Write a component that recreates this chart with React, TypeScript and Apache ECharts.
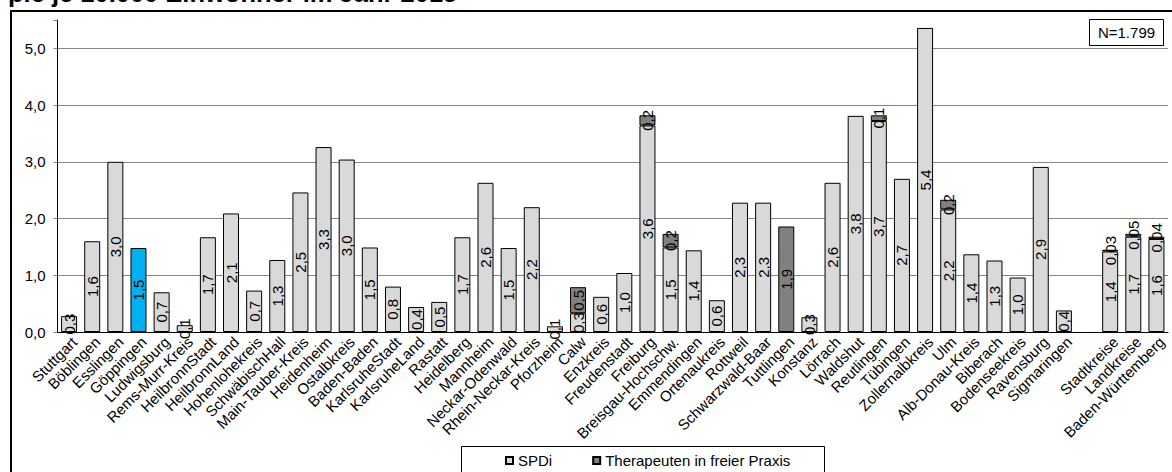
import React, { useEffect, useRef } from "react";
import * as echarts from "echarts";

const categories = [
  "Stuttgart", "Böblingen", "Esslingen", "Göppingen", "Ludwigsburg", "Rems-Murr-Kreis",
  "HeilbronnStadt", "HeilbronnLand", "Hohenlohekreis", "SchwäbischHall", "Main-Tauber-Kreis",
  "Heidenheim", "Ostalbkreis", "Baden-Baden", "KarlsruheStadt", "KarlsruheLand", "Rastatt",
  "Heidelberg", "Mannheim", "Neckar-Odenwald", "Rhein-Neckar-Kreis", "Pforzheim", "Calw",
  "Enzkreis", "Freudenstadt", "Freiburg", "Breisgau-Hochschw.", "Emmendingen", "Ortenaukreis",
  "Rottweil", "Schwarzwald-Baar", "Tuttlingen", "Konstanz", "Lörrach", "Waldshut", "Reutlingen",
  "Tübingen", "Zollernalbkreis", "Ulm", "Alb-Donau-Kreis", "Biberach", "Bodenseekreis",
  "Ravensburg", "Sigmaringen", "", "Stadtkreise", "Landkreise", "Baden-Württemberg",
];

const spdi: (number | null)[] = [
  0.28, 1.6, 3.0, 1.48, 0.7, 0.12,
  1.67, 2.09, 0.73, 1.27, 2.46,
  3.26, 3.04, 1.49, 0.8, 0.44, 0.53,
  1.67, 2.63, 1.48, 2.2, 0.1, 0.33,
  0.62, 1.04, 3.64, 1.49, 1.44, 0.56,
  2.28, 2.28, null, 0.26, 2.63, 3.81, 3.72,
  2.7, 5.36, 2.16, 1.37, 1.26, 0.96,
  2.91, 0.38, null, 1.42, 1.68, 1.64,
];

const therapeuten: (number | null)[] = [
  null, null, null, null, null, null,
  null, null, null, null, null,
  null, null, null, null, null, null,
  null, null, null, null, null, 0.46,
  null, null, 0.18, 0.24, null, null,
  null, null, 1.86, null, null, null, 0.1,
  null, null, 0.17, null, null, null,
  null, null, null, 0.03, 0.05, 0.04,
];

const highlighted = "Göppingen";
const yTicks = [0, 1, 2, 3, 4, 5];
const titleText = "pie je 10.000 Einwohner im Jahr 2015";
const nText = "N=1.799";

const FONT = "'Liberation Sans', Arial, sans-serif";

function fmt(v: number): string {
  if (v == null) return "";
  const s = v < 0.095 ? v.toFixed(2) : v.toFixed(1);
  return s.replace(".", ",");
}

export default function App() {
  const ref = useRef<HTMLDivElement>(null);
  useEffect(() => {
    if (!ref.current) return;
    const chart = echarts.init(ref.current, null, { renderer: "svg" });
    const labelCommon = {
      show: true,
      position: "inside",
      rotate: 90,
      color: "#000",
      fontSize: 15,
      fontFamily: FONT,
      formatter: (p: any) => (p.value == null ? "" : fmt(p.value)),
    };
    const splitColors = yTicks.map(() => "#868686").concat(["rgba(0,0,0,0)"]);
    chart.setOption({
      animation: false,
      textStyle: { fontFamily: FONT },
      grid: { left: 57.5, right: 4, top: 20, bottom: 140, containLabel: false },
      legend: {
        left: 500,
        top: 448,
        itemWidth: 7,
        itemHeight: 7,
        itemGap: 40,
        icon: "rect",
        textStyle: { fontSize: 15, color: "#000", fontFamily: FONT },
        data: ["SPDi", "Therapeuten in freier Praxis"],
      },
      xAxis: {
        type: "category",
        data: categories,
        axisLine: { show: true, lineStyle: { color: "#000", width: 1 } },
        axisTick: { show: false },
        axisLabel: {
          interval: 0,
          rotate: 45,
          fontSize: 15,
          color: "#000",
          fontFamily: FONT,
          margin: 2,
          verticalAlign: "top",
        },
      },
      yAxis: {
        type: "value",
        min: 0,
        max: 5.5,
        interval: 1,
        axisLine: { show: true, lineStyle: { color: "#000", width: 1 } },
        axisTick: { show: true, length: 4, lineStyle: { color: "#868686" } },
        axisLabel: {
          fontSize: 15,
          color: "#000",
          fontFamily: FONT,
          margin: 12,
          formatter: (v: number) => (yTicks.indexOf(v) >= 0 ? v.toFixed(1).replace(".", ",") : ""),
        },
        splitLine: { show: true, lineStyle: { color: splitColors, width: 1 } },
      },
      series: [
        {
          name: "SPDi",
          type: "bar",
          stack: "total",
          barWidth: 16,
          itemStyle: { color: "#d9d9d9", borderColor: "#000", borderWidth: 1 },
          label: labelCommon,
          data: spdi.map((v, i) =>
            categories[i] === highlighted
              ? { value: v, itemStyle: { color: "#00b0f0" } }
              : v
          ),
        },
        {
          name: "Therapeuten in freier Praxis",
          type: "bar",
          stack: "total",
          barWidth: 16,
          itemStyle: { color: "#808080", borderColor: "#000", borderWidth: 1 },
          label: labelCommon,
          data: therapeuten,
        },
      ],
      graphic: [
        {
          type: "rect",
          z: 0,
          silent: true,
          shape: { x: 11, y: 11, width: 1180, height: 480 },
          style: { fill: "none", stroke: "#000", lineWidth: 2 },
        },
        {
          type: "text",
          x: 8,
          y: 6,
          style: {
            text: titleText,
            font: `bold 25.5px ${FONT}`,
            fill: "#000",
            textVerticalAlign: "bottom",
          },
        },
        {
          type: "rect",
          z: 10,
          shape: { x: 1089.5, y: 19.5, width: 74, height: 26 },
          style: { fill: "#fff", stroke: "#000", lineWidth: 1 },
        },
        {
          type: "text",
          z: 11,
          x: 1126.5,
          y: 32.5,
          style: {
            text: nText,
            font: `15px ${FONT}`,
            fill: "#000",
            textAlign: "center",
            textVerticalAlign: "middle",
          },
        },
        {
          type: "rect",
          z: 0,
          shape: { x: 461.5, y: 446.5, width: 363, height: 40 },
          style: { fill: "none", stroke: "#000", lineWidth: 1 },
        },
      ],
    });
    return () => chart.dispose();
  }, []);
  return (
    <div
      ref={ref}
      style={{ position: "absolute", left: 0, top: 0, width: 1172, height: 472 }}
    />
  );
}
